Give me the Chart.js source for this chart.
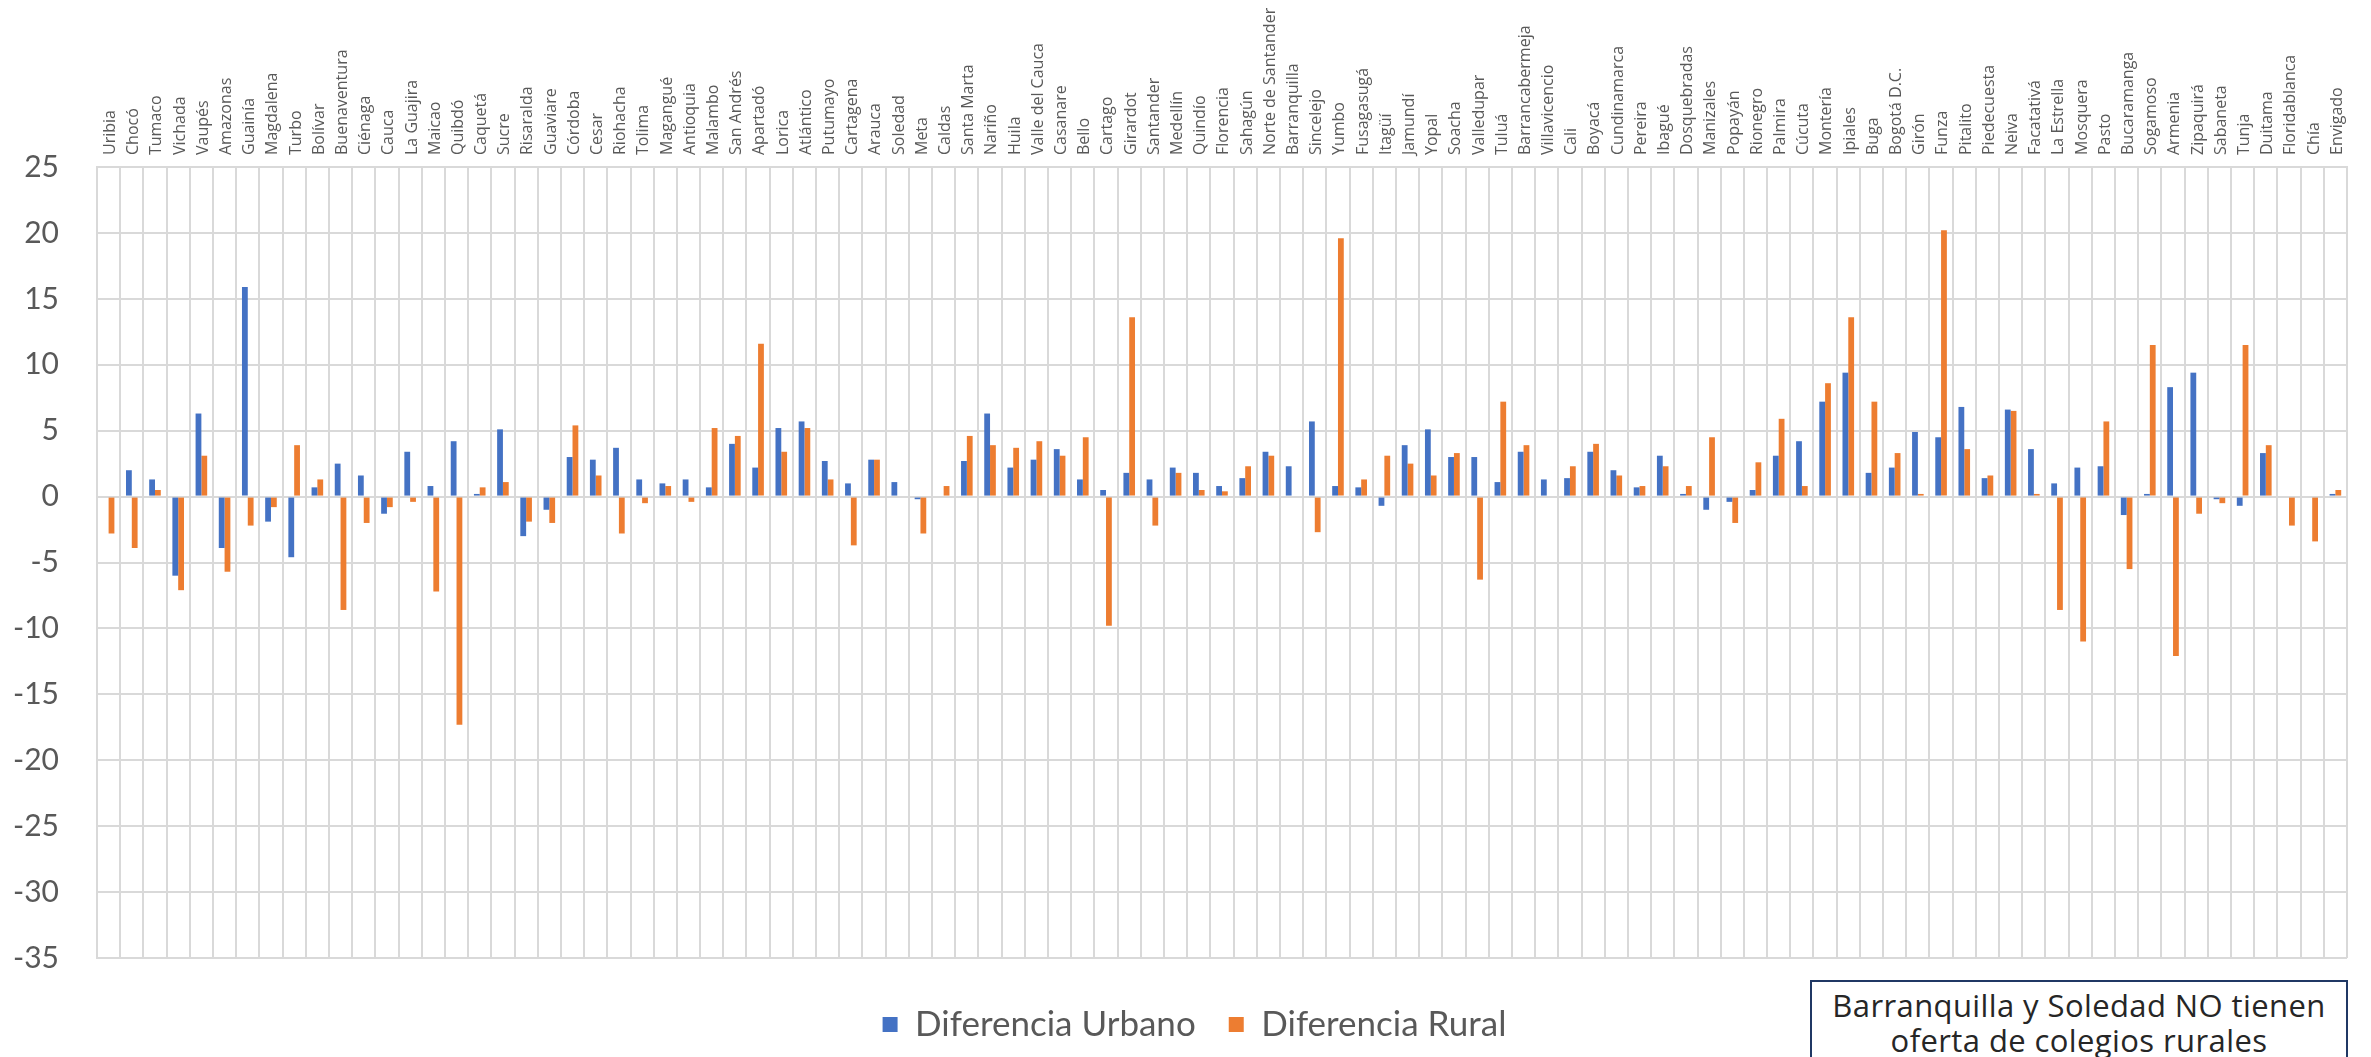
<!DOCTYPE html>
<html>
<head>
  <meta charset="utf-8">
  <script src="https://cdn.jsdelivr.net/npm/chart.js"></script>
  <style>
    body { margin: 0; background: #fff; overflow: hidden; }
    #wrap { position: relative; width: 2371px; height: 1057px; }
    #nota {
      position: absolute; left: 1810px; top: 980px; width: 538px; height: 100px;
      border: 2px solid #203864; background: #fff; box-sizing: border-box;
      font-family: 'Open Sans', sans-serif; font-size: 31px; line-height: 35px;
      letter-spacing: 0.4px; color: #262626; text-align: center; padding-top: 6px;
    }
  </style>
</head>
<body>
  <div id="wrap">
    <canvas id="myChart" width="2371" height="1057"></canvas>
    <div id="nota">Barranquilla y Soledad NO tienen<br>oferta de colegios rurales</div>
  </div>

  <script>
    // municipios / departamentos, en el orden del gráfico
    var lugares = [
      'Uribia', 'Chocó', 'Tumaco', 'Vichada', 'Vaupés', 'Amazonas', 'Guainía', 'Magdalena', 'Turbo', 'Bolívar',
      'Buenaventura', 'Ciénaga', 'Cauca', 'La Guajira', 'Maicao', 'Quibdó', 'Caquetá', 'Sucre', 'Risaralda', 'Guaviare',
      'Córdoba', 'Cesar', 'Riohacha', 'Tolima', 'Magangué', 'Antioquia', 'Malambo', 'San Andrés', 'Apartadó', 'Lorica',
      'Atlántico', 'Putumayo', 'Cartagena', 'Arauca', 'Soledad', 'Meta', 'Caldas', 'Santa Marta', 'Nariño', 'Huila',
      'Valle del Cauca', 'Casanare', 'Bello', 'Cartago', 'Girardot', 'Santander', 'Medellín', 'Quindío', 'Florencia', 'Sahagún',
      'Norte de Santander', 'Barranquilla', 'Sincelejo', 'Yumbo', 'Fusagasugá', 'Itagüí', 'Jamundí', 'Yopal', 'Soacha', 'Valledupar',
      'Tuluá', 'Barrancabermeja', 'Villavicencio', 'Cali', 'Boyacá', 'Cundinamarca', 'Pereira', 'Ibagué', 'Dosquebradas', 'Manizales',
      'Popayán', 'Rionegro', 'Palmira', 'Cúcuta', 'Montería', 'Ipiales', 'Buga', 'Bogotá D.C.', 'Girón', 'Funza',
      'Pitalito', 'Piedecuesta', 'Neiva', 'Facatativá', 'La Estrella', 'Mosquera', 'Pasto', 'Bucaramanga', 'Sogamoso', 'Armenia',
      'Zipaquirá', 'Sabaneta', 'Tunja', 'Duitama', 'Floridablanca', 'Chía', 'Envigado'
    ];

    var difUrbano = [
      null, 2.0, 1.3, -6.0, 6.3, -3.9, 15.9, -1.9, -4.6, 0.7,
      2.5, 1.6, -1.3, 3.4, 0.8, 4.2, 0.2, 5.1, -3.0, -1.0,
      3.0, 2.8, 3.7, 1.3, 1.0, 1.3, 0.7, 4.0, 2.2, 5.2,
      5.7, 2.7, 1.0, 2.8, 1.1, -0.2, null, 2.7, 6.3, 2.2,
      2.8, 3.6, 1.3, 0.5, 1.8, 1.3, 2.2, 1.8, 0.8, 1.4,
      3.4, 2.3, 5.7, 0.8, 0.7, -0.7, 3.9, 5.1, 3.0, 3.0,
      1.1, 3.4, 1.3, 1.4, 3.4, 2.0, 0.7, 3.1, 0.2, -1.0,
      -0.4, 0.5, 3.1, 4.2, 7.2, 9.4, 1.8, 2.2, 4.9, 4.5,
      6.8, 1.4, 6.6, 3.6, 1.0, 2.2, 2.3, -1.4, 0.2, 8.3,
      9.4, -0.2, -0.7, 3.3, null, null, 0.2
    ];

    var difRural = [
      -2.8, -3.9, 0.5, -7.1, 3.1, -5.7, -2.2, -0.8, 3.9, 1.3,
      -8.6, -2.0, -0.8, -0.4, -7.2, -17.3, 0.7, 1.1, -1.9, -2.0,
      5.4, 1.6, -2.8, -0.5, 0.8, -0.4, 5.2, 4.6, 11.6, 3.4,
      5.2, 1.3, -3.7, 2.8, null, -2.8, 0.8, 4.6, 3.9, 3.7,
      4.2, 3.1, 4.5, -9.8, 13.6, -2.2, 1.8, 0.5, 0.4, 2.3,
      3.1, null, -2.7, 19.6, 1.3, 3.1, 2.5, 1.6, 3.3, -6.3,
      7.2, 3.9, null, 2.3, 4.0, 1.6, 0.8, 2.3, 0.8, 4.5,
      -2.0, 2.6, 5.9, 0.8, 8.6, 13.6, 7.2, 3.3, 0.2, 20.2,
      3.6, 1.6, 6.5, 0.2, -8.6, -11.0, 5.7, -5.5, 11.5, -12.1,
      -1.3, -0.5, 11.5, 3.9, -2.2, -3.4, 0.5
    ];

    var ejeY = { min: -35, max: 25, paso: 5 };

    var gris = '#d9d9d9';
    var texto = '#595959';

    // corre la leyenda un poco a la derecha, como en el original
    var moverLeyenda = {
      id: 'moverLeyenda',
      afterLayout: function (chart) {
        chart.legend.left += 21;
        chart.legend.right += 21;
      }
    };

    var ctx = document.getElementById('myChart').getContext('2d');
    var myChart = new Chart(ctx, {
      type: 'bar',
      data: {
        labels: lugares,
        datasets: [{
          label: 'Diferencia Urbano',
          data: difUrbano,
          backgroundColor: '#4472C4',
          categoryPercentage: 0.5,
          barPercentage: 1.0
        }, {
          label: 'Diferencia Rural',
          data: difRural,
          backgroundColor: '#ED7D31',
          categoryPercentage: 0.5,
          barPercentage: 1.0
        }]
      },
      options: {
        responsive: false,
        animation: false,
        devicePixelRatio: 1,
        layout: { padding: { top: 0, right: 24, bottom: 5, left: 0 } },
        plugins: {
          tooltip: { enabled: false },
          legend: {
            position: 'bottom',
            // título vacío: solo sirve para bajar la leyenda
            title: { display: true, text: ' ', font: { size: 10 }, padding: 2 },
            labels: {
              boxWidth: 15,
              boxHeight: 15,
              padding: 33,
              color: texto,
              font: { family: 'Lato', size: 35 }
            }
          }
        },
        scales: {
          x: {
            position: 'top',
            grid: { color: gris, lineWidth: 2, offset: true, drawTicks: false },
            border: { color: gris, width: 2 },
            ticks: {
              autoSkip: false,
              minRotation: 90,
              maxRotation: 90,
              padding: 12,
              labelOffset: 21,
              color: texto,
              font: { family: 'Open Sans', size: 16 }
            },
            afterFit: function (scale) { scale.height = 167; }
          },
          y: {
            min: ejeY.min,
            max: ejeY.max,
            grid: { color: gris, lineWidth: 2, drawTicks: false },
            border: { color: gris, width: 2 },
            ticks: {
              stepSize: ejeY.paso,
              padding: 38,
              color: texto,
              font: { family: 'Lato', size: 30 }
            },
            afterFit: function (scale) { scale.width = 97; }
          }
        }
      },
      plugins: [moverLeyenda]
    });
  </script>
</body>
</html>
